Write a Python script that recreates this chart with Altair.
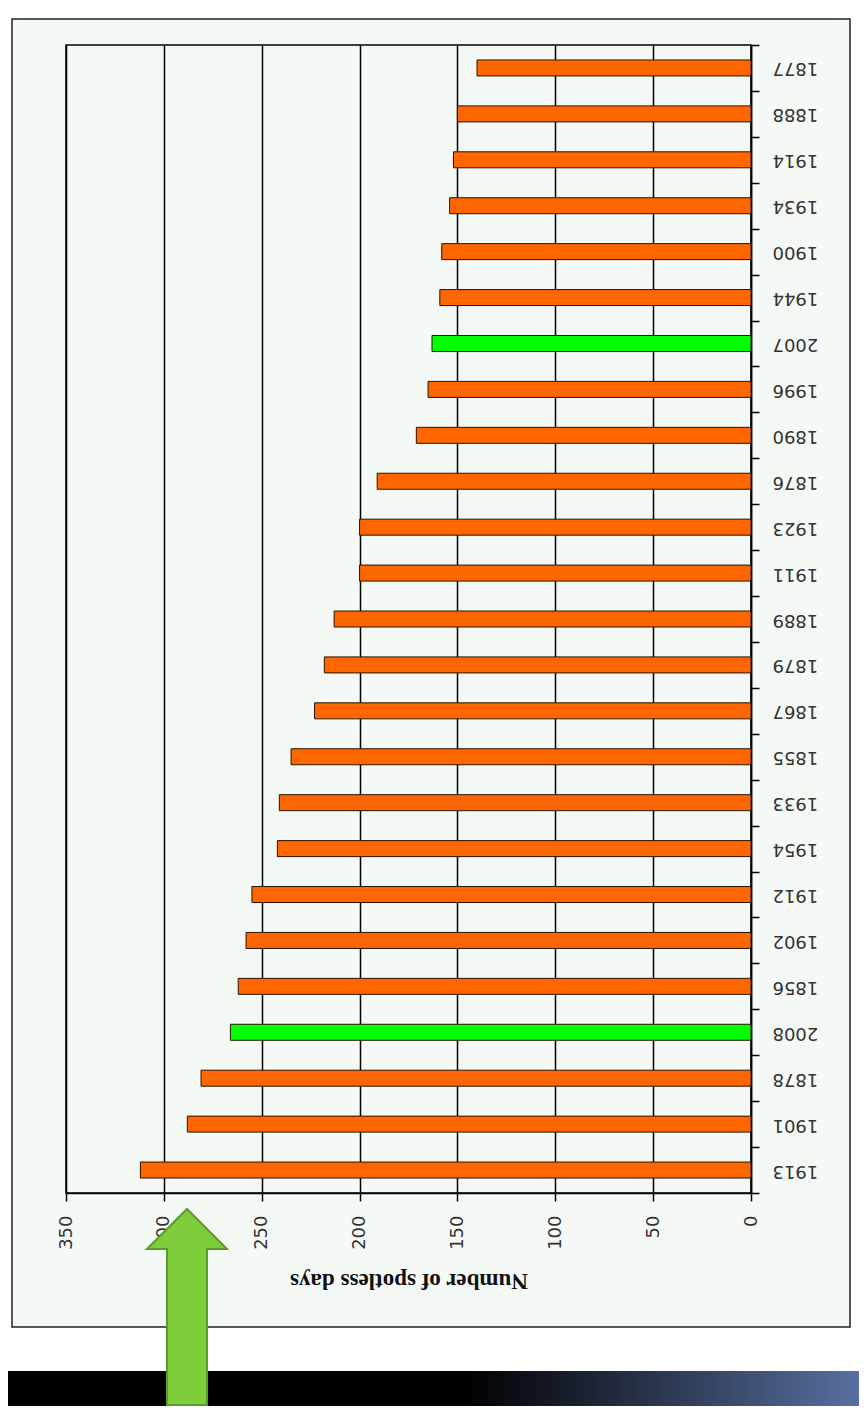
import altair as alt
import pandas as pd

years = ["1877", "1888", "1914", "1934", "1900", "1944", "2007", "1996", "1890", "1876",
         "1923", "1911", "1889", "1879", "1867", "1855", "1933", "1954", "1912", "1902",
         "1856", "2008", "1878", "1901", "1913"]
spotless_days = [140, 150, 152, 154, 158, 159, 163, 165, 171, 191,
                 200, 200, 213, 218, 223, 235, 241, 242, 255, 258,
                 262, 266, 281, 288, 312]
highlight = ["recent" if y in ("2007", "2008") else "other" for y in years]
x_ticks = [0, 50, 100, 150, 200, 250, 300, 350]

df = pd.DataFrame({"year": years, "days": spotless_days, "kind": highlight})
one = pd.DataFrame({"a": [0]})

W, H = 685, 1148
PANEL = "#f5f9f6"
RIGHT = 793

bars = alt.Chart(df).mark_bar(size=16, stroke="#2a1200", strokeWidth=1).encode(
    x=alt.X("days:Q",
            scale=alt.Scale(domain=[0, 350], reverse=True, nice=False),
            axis=alt.Axis(orient="bottom", values=x_ticks, title="Number of spotless days",
                          labelAngle=270, labelAlign="right", labelBaseline="middle",
                          labelFont="DejaVu Sans", labelFontSize=18, labelColor="#333",
                          labelPadding=14, tickSize=8, tickColor="#000", tickWidth=1.5,
                          domainColor="#000", domainWidth=1.5,
                          grid=True, gridColor="#000", gridWidth=1.5,
                          titleFont="Liberation Serif", titleFontSize=23, titleFontWeight="bold",
                          titleColor="#111", titleAngle=180, titleBaseline="bottom",
                          titleY=75)),
    y=alt.Y("year:N", sort=years,
            scale=alt.Scale(paddingInner=0, paddingOuter=0),
            axis=alt.Axis(orient="right", title=None, labelAngle=180, labelAlign="right",
                          labelBaseline="middle", labelFont="DejaVu Sans", labelFontSize=18,
                          labelColor="#333", labelPadding=13, tickSize=8, tickBand="extent",
                          tickColor="#000", tickWidth=1.5, domainColor="#000", domainWidth=1.5,
                          grid=False)),
    color=alt.Color("kind:N", scale=alt.Scale(domain=["other", "recent"],
                                              range=["#FF6600", "#00FF00"]), legend=None),
)

def box(x1, x2, y1, y2, **kw):
    return alt.Chart(one).mark_rect(**kw).encode(
        x=alt.value(x1), x2=alt.value(x2), y=alt.value(y1), y2=alt.value(y2))

white_top = box(-58, RIGHT, -37, -26, fill="white")
white_left = box(-58, -54, -37, 1326, fill="white")
white_right = box(784, RIGHT, -37, 1326, fill="white")
white_bottom = box(-58, RIGHT, 1282, 1326, fill="white")
panel_border = box(-54, 784, -26, 1282, fill=None, filled=False, stroke="#222", strokeWidth=1.5)

gradient = {"gradient": "linear", "x1": 0, "x2": 1, "y1": 0, "y2": 0,
            "stops": [{"offset": 0, "color": "#000000"},
                      {"offset": 0.536, "color": "#000000"},
                      {"offset": 1, "color": "#586fa0"}]}
band = box(-58, RIGHT, 1326, 1361, fill=gradient)

arrow_path = ("M 0 -1 L 0.408 -0.592 L 0.204 -0.592 L 0.204 1 L -0.204 1 "
              "L -0.204 -0.592 L -0.408 -0.592 Z")
arrow = alt.Chart(one).mark_point(shape=arrow_path, size=196 * 196, filled=True,
                                  fill="#7ece3c", stroke="#5b9b2a", strokeWidth=2,
                                  opacity=1).encode(x=alt.value(121), y=alt.value(1262))

chart = alt.layer(bars, white_top, white_left, white_right, white_bottom, panel_border,
                  band, arrow).properties(
    width=W, height=H,
    autosize=alt.AutoSizeParams(type="none"),
    padding={"left": 58, "top": 37, "right": 108, "bottom": 213},
    background=PANEL,
).configure_view(stroke="#000", strokeWidth=1.5)

chart.save("out.html", embed_options={"renderer": "svg", "actions": False})
